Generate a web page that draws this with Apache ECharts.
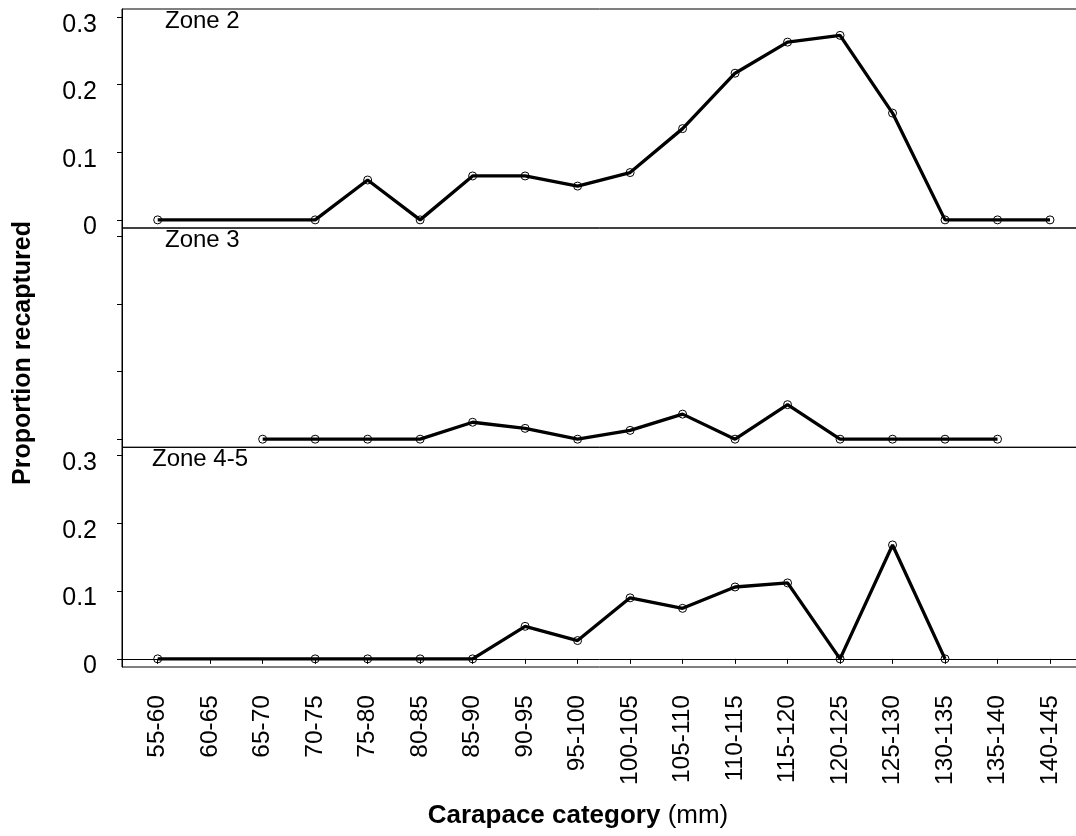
<!DOCTYPE html>
<html>
<head>
<meta charset="utf-8">
<script src="https://cdn.jsdelivr.net/npm/echarts@6/dist/echarts.min.js"></script>
<style>
html,body{margin:0;padding:0;background:#fff;}
#chart{width:1076px;height:836px;}
</style>
</head>
<body>
<div id="chart"></div>
<script>
// ---- data ----
const categories = ['55-60','60-65','65-70','70-75','75-80','80-85','85-90','90-95','95-100','100-105','105-110','110-115','115-120','120-125','125-130','130-135','135-140','140-145'];
const zone2  = [0, null, null, 0, 0.059, 0, 0.065, 0.065, 0.050, 0.070, 0.135, 0.217, 0.263, 0.273, 0.158, 0, 0, 0];
const zone3  = [null, null, 0, 0, 0, 0, 0.025, 0.016, 0, 0.013, 0.037, 0, 0.051, 0, 0, 0, 0, null];
const zone45 = [0, null, null, 0, 0, 0, 0, 0.048, 0.027, 0.090, 0.0745, 0.106, 0.112, 0, 0.168, 0, null, null];
const panelNames = ['Zone 2', 'Zone 3', 'Zone 4-5'];
const yTicks = [0, 0.1, 0.2, 0.3];
const yTickLabels = ['0', '0.1', '0.2', '0.3'];
const xTitleBold = 'Carapace category';
const xTitleUnit = ' (mm)';
const yTitle = 'Proportion recaptured';

const FONT = "'Liberation Sans', Arial, Helvetica, sans-serif";
const xPositions = categories.map((c, i) => i + 1);
const toPairs = arr => arr.map((v, i) => v == null ? null : [i + 1, v]).filter(p => p);

const grids = [
  {left: 122, top: 9,   width: 963.7, height: 219},
  {left: 122, top: 228, width: 963.7, height: 219.3},
  {left: 122, top: 447.3, width: 963.7, height: 219.7}
].map(g => Object.assign(g, {show: true, borderColor: '#000', borderWidth: 1, backgroundColor: 'transparent', containLabel: false, outerBoundsMode: 'none'}));

const xAxes = [0, 1, 2].map(i => ({
  type: 'value', gridIndex: i, min: 0.32, max: 18.68,
  axisLine: {show: i === 2, lineStyle: {color: '#000', width: 1}},
  splitLine: {show: false},
  axisTick: {show: i === 2, customValues: xPositions, length: 5, lineStyle: {color: '#000', width: 1}},
  axisLabel: {
    show: i === 2, customValues: xPositions, rotate: 90, margin: 28,
    fontSize: 24.5, color: '#000', fontFamily: FONT,
    formatter: v => categories[Math.round(v) - 1] || ''
  }
}));

const yAxes = [0, 1, 2].map(i => ({
  type: 'value', gridIndex: i, min: -0.012, max: 0.312,
  axisLine: {show: true, lineStyle: {color: '#000', width: 1}},
  splitLine: {show: false},
  axisTick: {show: true, customValues: yTicks, length: 5, lineStyle: {color: '#000', width: 1}},
  axisLabel: {
    show: i !== 1, customValues: yTicks, margin: 25,
    color: '#000',
    rich: {t: {fontSize: 25, fontFamily: FONT, color: '#000', padding: [15, 0, 0, 0]}},
    formatter: v => '{t|' + (yTickLabels[yTicks.findIndex(t => Math.abs(t - v) < 1e-9)] ?? '') + '}'
  }
}));

const seriesData = [zone2, zone3, zone45];
const series = seriesData.map((arr, i) => ({
  type: 'line', xAxisIndex: i, yAxisIndex: i,
  data: toPairs(arr),
  symbol: 'circle', symbolSize: 8,
  lineStyle: {color: '#000', width: 3.3},
  itemStyle: {color: 'rgba(255,255,255,0)', borderColor: '#000', borderWidth: 1},
  animation: false, z: 3
}));

const labelY = [22, 241.5, 460];
const labelX = [165, 165, 152];
const graphics = panelNames.map((n, i) => ({
  type: 'text', left: labelX[i], top: labelY[i] - 13,
  style: {text: n, font: '24px ' + FONT, fill: '#000'}
}));
graphics.push({
  type: 'text', x: 23, y: 353, rotation: Math.PI / 2,
  style: {text: yTitle, font: 'bold 25px ' + FONT, fill: '#000', align: 'center', verticalAlign: 'middle'}
});
graphics.push({
  type: 'text', x: 578, y: 816,
  style: {
    text: '{b|' + xTitleBold + '}{n|' + xTitleUnit + '}',
    align: 'center', verticalAlign: 'middle',
    rich: {
      b: {font: 'bold 26px ' + FONT, fill: '#000'},
      n: {font: '26px ' + FONT, fill: '#000'}
    }
  }
});

const chart = echarts.init(document.getElementById('chart'), null, {renderer: 'canvas'});
chart.setOption({
  animation: false,
  grid: grids,
  xAxis: xAxes,
  yAxis: yAxes,
  series: series,
  graphic: graphics
});
</script>
</body>
</html>
